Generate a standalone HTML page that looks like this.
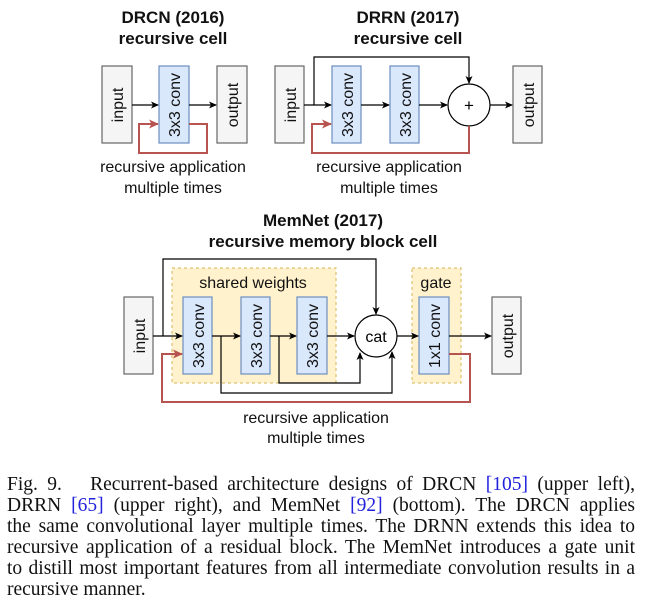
<!DOCTYPE html>
<html><head><meta charset="utf-8"><style>
body{margin:0;width:647px;height:606px;background:#fff;overflow:hidden;position:relative}
svg{position:absolute;left:0;top:0}
.cap{position:absolute;left:7px;top:474px;width:628px;font-family:"Liberation Serif",serif;font-size:19.5px;line-height:21px;color:#111}
.cap div{text-align:justify;text-align-last:justify;white-space:nowrap}
.cap div.last{text-align-last:left}
.b{color:#2222dd}
</style></head><body>
<svg width="647" height="606" viewBox="0 0 647 606" font-family="Liberation Sans, sans-serif">
<defs>
<marker id="a" markerWidth="8" markerHeight="8" refX="7" refY="4" orient="auto" markerUnits="userSpaceOnUse"><path d="M0,0.5 L8,4 L0,7.5 L2,4z" fill="#000"/></marker>
<marker id="r" markerWidth="10" markerHeight="10" refX="9" refY="5" orient="auto" markerUnits="userSpaceOnUse"><path d="M0,0.5 L10,5 L0,9.5 L2.5,5z" fill="#b85450"/></marker>
</defs>
<g font-weight="bold" font-size="17" text-anchor="middle" fill="#111">
<text x="173" y="23">DRCN (2016)</text><text x="173" y="44">recursive cell</text>
<text x="408" y="23">DRRN (2017)</text><text x="408" y="44">recursive cell</text>
<text x="323" y="226">MemNet (2017)</text><text x="323" y="247">recursive memory block cell</text>
</g>
<g font-size="16" text-anchor="middle" fill="#111">
<text x="173" y="172">recursive application</text><text x="173" y="193">multiple times</text>
<text x="389" y="172">recursive application</text><text x="389" y="193">multiple times</text>
<text x="316" y="423">recursive application</text><text x="316" y="443">multiple times</text>
</g>
<rect x="172" y="268" width="164" height="115" fill="#fff2cc" stroke="#d6b656" stroke-dasharray="3,3"/>
<rect x="412" y="268" width="49" height="115" fill="#fff2cc" stroke="#d6b656" stroke-dasharray="3,3"/>
<text x="253" y="288" font-size="16" text-anchor="middle" fill="#111">shared weights</text>
<text x="436" y="288" font-size="16" text-anchor="middle" fill="#111">gate</text>
<g stroke-width="1.2">
<rect x="102" y="66" width="30" height="77" fill="#f5f5f5" stroke="#666"/>
<rect x="159" y="66" width="30" height="77" fill="#dae8fc" stroke="#6c8ebf"/>
<rect x="217" y="66" width="30" height="77" fill="#f5f5f5" stroke="#666"/>
<rect x="275" y="66" width="29" height="77" fill="#f5f5f5" stroke="#666"/>
<rect x="332" y="66" width="29" height="77" fill="#dae8fc" stroke="#6c8ebf"/>
<rect x="390" y="66" width="29" height="77" fill="#dae8fc" stroke="#6c8ebf"/>
<rect x="513" y="66" width="29" height="77" fill="#f5f5f5" stroke="#666"/>
<rect x="124" y="297" width="29" height="77" fill="#f5f5f5" stroke="#666"/>
<rect x="183" y="297" width="29" height="77" fill="#dae8fc" stroke="#6c8ebf"/>
<rect x="241" y="297" width="29" height="77" fill="#dae8fc" stroke="#6c8ebf"/>
<rect x="297" y="297" width="30" height="77" fill="#dae8fc" stroke="#6c8ebf"/>
<rect x="419" y="297" width="30" height="77" fill="#dae8fc" stroke="#6c8ebf"/>
<rect x="492" y="297" width="29" height="77" fill="#f5f5f5" stroke="#666"/>
</g>
<circle cx="469" cy="105" r="21" fill="#fff" stroke="#000" stroke-width="1.2"/>
<text x="469" y="111" font-size="17" text-anchor="middle">+</text>
<circle cx="376" cy="336" r="21" fill="#fff" stroke="#000" stroke-width="1.2"/>
<text x="376" y="342" font-size="16" text-anchor="middle">cat</text>
<g font-size="16" text-anchor="middle" fill="#111">
<text transform="translate(123,105) rotate(-90)">input</text>
<text transform="translate(180,105) rotate(-90)">3x3 conv</text>
<text transform="translate(238,105) rotate(-90)">output</text>
<text transform="translate(296,105) rotate(-90)">input</text>
<text transform="translate(353,105) rotate(-90)">3x3 conv</text>
<text transform="translate(411,105) rotate(-90)">3x3 conv</text>
<text transform="translate(534,105) rotate(-90)">output</text>
<text transform="translate(145,336) rotate(-90)">input</text>
<text transform="translate(204,336) rotate(-90)">3x3 conv</text>
<text transform="translate(262,336) rotate(-90)">3x3 conv</text>
<text transform="translate(318,336) rotate(-90)">3x3 conv</text>
<text transform="translate(440,336) rotate(-90)">1x1 conv</text>
<text transform="translate(513,336) rotate(-90)">output</text>
</g>
<g stroke="#000" stroke-width="1.2" fill="none" marker-end="url(#a)">
<path d="M132,105H158"/><path d="M189,105H216"/>
<path d="M304,105H331"/><path d="M361,105H389"/><path d="M419,105H447"/><path d="M490,105H512"/>
<path d="M314,105V57H469V83"/>
<path d="M153,336H182"/><path d="M212,336H240"/><path d="M270,336H296"/><path d="M327,336H354"/>
<path d="M397,336H418"/><path d="M449,336H491"/>
<path d="M163,336V259H376V314"/>
<path d="M279,336V383H360V353"/>
<path d="M221,336V393H392V352"/>
</g>
<g stroke="#b85450" stroke-width="2" fill="none" marker-end="url(#r)">
<path d="M189,124H207V153H139V124H158"/>
<path d="M469,126V153H312V124H331"/>
<path d="M449,354H470V402H162V354H182"/>
</g>
</svg>
<div class="cap">
<div>Fig. 9.&nbsp;&nbsp; Recurrent-based architecture designs of DRCN <span class="b">[105]</span> (upper left),</div>
<div>DRRN <span class="b">[65]</span> (upper right), and MemNet <span class="b">[92]</span> (bottom). The DRCN applies</div>
<div>the same convolutional layer multiple times. The DRNN extends this idea to</div>
<div>recursive application of a residual block. The MemNet introduces a gate unit</div>
<div>to distill most important features from all intermediate convolution results in a</div>
<div class="last">recursive manner.</div>
</div>
</body></html>
